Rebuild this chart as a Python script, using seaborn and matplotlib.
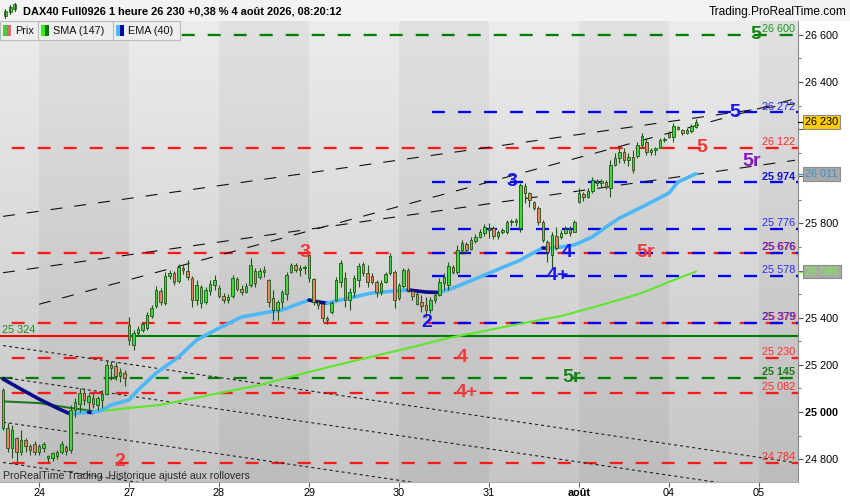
import numpy as np
import pandas as pd
import matplotlib
matplotlib.use("Agg")
import matplotlib.pyplot as plt
import matplotlib.transforms as mtrans
from matplotlib.patches import Rectangle
import seaborn as sns

# ---------------- data (hourly candles, DAX40) ----------------
opens = [25093, 24932, 24847, 24890, 24830, 24881, 24855, 24864, 24830, 24847,
         24805, 24805, 24813, 24830, 24851, 24838, 25008, 25034, 25080, 25042,
         25059, 25030, 25051, 25076, 25199, 25195, 25153, 25165, 25369, 25284,
         25335, 25348, 25356, 25407, 25450, 25513, 25462, 25577, 25590, 25556,
         25611, 25598, 25569, 25475, 25530, 25467, 25513, 25539, 25526, 25492,
         25475, 25492, 25565, 25522, 25509, 25539, 25600, 25573, 25594, 25560,
         25484, 25433, 25467, 25500, 25594, 25624, 25602, 25611, 25666, 25565,
         25467, 25458, 25399, 25424, 25475, 25552, 25569, 25475, 25509, 25560,
         25628, 25590, 25577, 25552, 25509, 25552, 25590, 25594, 25484, 25535,
         25602, 25513, 25500, 25467, 25454, 25433, 25475, 25496, 25547, 25539,
         25615, 25594, 25687, 25713, 25692, 25726, 25743, 25760, 25781, 25781,
         25747, 25764, 25764, 25806, 25806, 25781, 25959, 25929, 25891, 25866,
         25806, 25721, 25666, 25747, 25743, 25760, 25777, 25764, 25891, 25925,
         25912, 25938, 25980, 25972, 25976, 25951, 26048, 26078, 26103, 26069,
         26082, 26086, 26133, 26146, 26103, 26112, 26120, 26154, 26184, 26167,
         26210, 26197, 26184, 26193, 26210]
highs = [25100, 24953, 24945, 24895, 24923, 24889, 24864, 24877, 24864, 24872,
         24817, 24830, 24838, 24877, 24860, 25030, 25059, 25102, 25102, 25080,
         25080, 25068, 25093, 25220, 25216, 25212, 25187, 25178, 25403, 25348,
         25365, 25382, 25424, 25454, 25535, 25526, 25594, 25602, 25598, 25628,
         25624, 25645, 25577, 25560, 25539, 25530, 25560, 25581, 25539, 25505,
         25500, 25581, 25573, 25539, 25547, 25653, 25610, 25611, 25619, 25565,
         25518, 25475, 25518, 25594, 25632, 25632, 25624, 25624, 25679, 25569,
         25480, 25462, 25407, 25471, 25573, 25645, 25594, 25526, 25581, 25632,
         25637, 25624, 25590, 25560, 25560, 25594, 25675, 25602, 25547, 25611,
         25611, 25518, 25509, 25496, 25488, 25488, 25509, 25569, 25590, 25637,
         25624, 25709, 25730, 25721, 25743, 25755, 25777, 25798, 25802, 25789,
         25772, 25781, 25815, 25819, 25823, 25972, 25972, 25935, 25896, 25874,
         25815, 25730, 25764, 25785, 25772, 25789, 25789, 25815, 25951, 25933,
         25951, 25997, 25989, 25989, 25985, 26069, 26099, 26120, 26120, 26099,
         26112, 26146, 26184, 26163, 26120, 26125, 26163, 26167, 26193, 26226,
         26214, 26201, 26205, 26222, 26243]
lows = [24923, 24830, 24805, 24788, 24817, 24830, 24817, 24817, 24817, 24830,
        24788, 24792, 24800, 24821, 24817, 24826, 24979, 25000, 25030, 25008,
        25017, 25008, 25017, 25072, 25136, 25136, 25127, 25110, 25284, 25263,
        25327, 25339, 25348, 25399, 25441, 25454, 25454, 25565, 25539, 25547,
        25585, 25560, 25446, 25454, 25441, 25458, 25496, 25518, 25484, 25462,
        25462, 25484, 25513, 25496, 25505, 25530, 25530, 25565, 25573, 25446,
        25390, 25390, 25441, 25475, 25590, 25594, 25577, 25585, 25552, 25454,
        25437, 25382, 25373, 25416, 25470, 25530, 25446, 25433, 25488, 25530,
        25577, 25530, 25543, 25488, 25496, 25547, 25581, 25441, 25475, 25526,
        25509, 25475, 25454, 25424, 25403, 25420, 25462, 25492, 25518, 25518,
        25586, 25586, 25670, 25675, 25687, 25717, 25738, 25747, 25738, 25734,
        25734, 25755, 25755, 25790, 25790, 25764, 25887, 25870, 25857, 25794,
        25721, 25637, 25615, 25687, 25734, 25755, 25747, 25764, 25887, 25895,
        25908, 25929, 25959, 25955, 25946, 25912, 26044, 26057, 26057, 26044,
        26014, 26078, 26120, 26091, 26091, 26091, 26120, 26146, 26163, 26146,
        26197, 26176, 26180, 26184, 26205]
closes = [24932, 24847, 24923, 24830, 24881, 24855, 24838, 24830, 24855, 24864,
          24813, 24826, 24830, 24864, 24834, 25008, 25042, 25080, 25051, 25068,
          25034, 25059, 25076, 25199, 25187, 25153, 25170, 25144, 25305, 25335,
          25352, 25373, 25412, 25441, 25518, 25467, 25577, 25590, 25552, 25615,
          25602, 25573, 25475, 25539, 25462, 25518, 25543, 25560, 25492, 25475,
          25488, 25569, 25522, 25509, 25535, 25624, 25547, 25598, 25602, 25467,
          25433, 25467, 25509, 25581, 25624, 25602, 25611, 25615, 25569, 25467,
          25454, 25399, 25390, 25462, 25560, 25632, 25475, 25509, 25569, 25619,
          25590, 25552, 25552, 25509, 25547, 25585, 25662, 25475, 25539, 25602,
          25518, 25492, 25458, 25450, 25433, 25475, 25496, 25552, 25573, 25619,
          25594, 25687, 25717, 25687, 25730, 25743, 25764, 25785, 25772, 25747,
          25764, 25772, 25806, 25808, 25815, 25963, 25929, 25900, 25866, 25806,
          25730, 25679, 25751, 25696, 25760, 25777, 25760, 25806, 25929, 25912,
          25938, 25985, 25972, 25980, 25955, 26048, 26078, 26103, 26069, 26082,
          26027, 26133, 26171, 26103, 26112, 26120, 26154, 26159, 26167, 26214,
          26201, 26184, 26197, 26214, 26230]

sma_idx = [0, 8, 14, 20, 22, 24, 28, 35, 48, 57, 67, 77, 90, 99, 108, 117, 124, 133, 142, 148, 154]
sma_val = [25045, 25038, 25020, 25004, 25006, 25008, 25017, 25030, 25080, 25114, 25165,
           25212, 25271, 25314, 25348, 25382, 25407, 25454, 25505, 25552, 25596]
ema_idx = [0, 4, 8, 12, 15, 17, 19, 20, 22, 24, 28, 30, 34, 39, 43, 48, 53, 59, 62, 68, 70, 72,
           75, 77, 82, 87, 90, 94, 97, 100, 107, 115, 119, 120, 121, 124, 127, 131, 134, 137,
           142, 148, 150, 154]
ema_val = [25140, 25097, 25055, 25017, 24991, 24996, 24999, 24998, 25008, 25030, 25051, 25093,
           25165, 25233, 25305, 25356, 25403, 25424, 25433, 25475, 25467, 25462, 25475, 25484,
           25505, 25513, 25518, 25509, 25507, 25526, 25581, 25645, 25687, 25696, 25694, 25700,
           25709, 25743, 25785, 25823, 25870, 25929, 25976, 26011]

day_pos = [8, 28, 48, 68, 88, 108, 128, 148, 168]
day_labels = ["24", "27", "28", "29", "30", "31", "août", "04", "05"]

red_levels = [26122, 25676, 25379, 25230, 25082, 24784]
blue_levels = [26272, 25974, 25776, 25676, 25578, 25379]
green_levels = [26600, 25145]
support_level = 25324
blue_start = 95.3
support_switch = 28.2

dashed_trends = [(0, 25830, 176, 26308), (0, 25591, 176, 26068), (8, 25457, 176, 26329)]
dotted_trends = [(0, 25282, 176, 24785), (0, 24957, 92.7, 24697),
                 (0, 25147, 176, 24653), (0, 24786, 32.7, 24694)]

wave_text = ["5", "5", "5", "5r", "3", "3", "4", "4+", "5r", "2", "4", "5r", "4+", "2"]
wave_idx = [167.3, 162.7, 155.3, 166.4, 113.1, 67.1, 125.3, 123.3, 142.7, 94.2, 102.0, 126.4, 103.1, 26.0]
wave_price = [26600, 26272, 26122, 26061, 25980, 25676, 25676, 25578, 25676, 25379, 25230, 25145, 25082, 24790]
wave_kind = ["green", "blue", "red", "purple", "blue", "red", "blue", "blue", "red", "blue", "red", "green", "red", "red"]

last_price = 26230
ema_last = 26011
sma_last = 25596
title = "DAX40 Full0926 1 heure 26 230 +0,38 % 4 août 2026, 08:20:12"

# ---------------- style ----------------
sns.set_theme(style="white")
plt.rcParams['font.family'] = ['Liberation Sans', 'DejaVu Sans']
plt.rcParams['lines.scale_dashes'] = False

W, H = 850, 500
PT = 0.72  # points per pixel at 100 dpi
def fx(px): return px / W
def fy(py): return 1 - py / H
def fmt(v): return f"{int(v):,}".replace(",", " ")

RED = "#ff1a1a"
LBL = {"red": "#f03a3a", "blue": "#1414f0", "green": "#0f870f", "purple": "#8614c8"}

fig = plt.figure(figsize=(8.5, 5), dpi=100, facecolor="white")
ax = fig.add_axes([0, fy(482), fx(798), (482 - 21) / H])
x0, x1 = -0.667, 176.667
y0, y1 = 24703, 26659

# background gradient + alternating day bands
grad = np.linspace(0.925, 0.775, 256)[:, None, None] * np.ones((1, 1, 3))
ax.imshow(grad, extent=[x0, x1, y0, y1], aspect="auto", zorder=0, interpolation="bilinear")
bounds = day_pos + [x1]
for k in range(0, len(bounds) - 1, 2):
    ax.axvspan(bounds[k], bounds[k + 1], color="black", alpha=0.045, lw=0, zorder=0.5)

# horizontal levels
on = 13 * PT
for v in red_levels:
    ax.plot([x0, x1], [v, v], color=RED, lw=1.65, ls=(14.3 * PT, (on, on)), zorder=2)
for v in blue_levels:
    ax.plot([blue_start, x1], [v, v], color="#0000ff", lw=1.65, ls=(0, (on, on)), zorder=2.1)
for v in green_levels:
    ax.plot([x0, x1], [v, v], color="#008000", lw=1.65, ls=(0.3 * PT, (on, on)), zorder=2)
ax.plot([x0, support_switch], [support_level] * 2, color="#ff0000", lw=1.5, zorder=2)
ax.plot([support_switch, x1], [support_level] * 2, color="#007a00", lw=1.5, zorder=2)

# trend lines
for a, pa, b, pb in dashed_trends:
    ax.plot([a, b], [pa, pb], color="#111111", lw=0.8, ls=(0, (12 * PT, 12 * PT)), zorder=3)
for a, pa, b, pb in dotted_trends:
    ax.plot([a, b], [pa, pb], color="#222222", lw=0.8, ls=(0, (2.2, 2.2)), zorder=3)

# moving averages, coloured by direction
def draw_ma(idx, val, up_col, dn_col, lw):
    idx = np.asarray(idx, float); val = np.asarray(val, float)
    ups = np.diff(val) >= 0
    start = 0
    for k in range(1, len(ups) + 1):
        if k == len(ups) or ups[k] != ups[start]:
            seg = pd.DataFrame({"i": idx[start:k + 1], "v": val[start:k + 1]})
            sns.lineplot(data=seg, x="i", y="v", ax=ax, color=up_col if ups[start] else dn_col,
                         lw=lw, legend=False, sort=False, estimator=None,
                         solid_capstyle="round", zorder=4)
            start = k

draw_ma(sma_idx, sma_val, "#5ee62a", "#1c7a1c", 1.5)
draw_ma(ema_idx, ema_val, "#4cb8f5", "#0a0a8a", 2.6)

# candles
o = np.array(opens); h = np.array(highs); l = np.array(lows); c = np.array(closes)
ci = np.arange(len(o))
up = c >= o
EDGE = "#1d5512"
ax.vlines(ci, l, h, color=EDGE, lw=0.8, zorder=5)
ax.bar(ci, np.maximum(np.abs(c - o), 3), bottom=np.minimum(o, c), width=0.62,
       color=np.where(up, "#3fd83f", "#ef8068"), edgecolor=EDGE, linewidth=0.6, zorder=6)

# wave labels
for t, xi, pv, kd in zip(wave_text, wave_idx, wave_price, wave_kind):
    ax.text(xi, pv, t, color=LBL[kd], fontsize=14, fontweight="bold", ha="center",
            va="center", zorder=8)

# level tags at right edge
tags = [(26600, "#1a9a1a", "normal"), (26272, "#2a2aff", "normal"), (26122, "#ff2a2a", "normal"),
        (25974, "#1010c8", "bold"), (25776, "#2a2aff", "normal"), (25578, "#2a2aff", "normal"),
        (25230, "#ff2a2a", "normal"), (25145, "#167a16", "bold"), (25082, "#ff2a2a", "normal"),
        (24784, "#ff2a2a", "normal")]
for v, col, wt in tags:
    ax.annotate(fmt(v), xy=(x1, v), xytext=(-2, 0.5), textcoords="offset points", ha="right",
                va="bottom", fontsize=7.8, color=col, fontweight=wt, zorder=9)
for v in [25676, 25379]:
    ax.annotate(fmt(v), xy=(x1, v), xytext=(-1.2, 0.5), textcoords="offset points", ha="right",
                va="bottom", fontsize=7.8, color="#ff2a2a", zorder=9)
    ax.annotate(fmt(v), xy=(x1, v), xytext=(-2, 0.5), textcoords="offset points", ha="right",
                va="bottom", fontsize=7.8, color="#3a1ae0", zorder=9.1)
ax.annotate(fmt(support_level), xy=(x0, support_level), xytext=(1.5, 0.5),
            textcoords="offset points", ha="left", va="bottom", fontsize=7.8, color="#1a8a1a", zorder=9)

ax.text(0.004, 0.003, "ProRealTime Trading  Historique ajusté aux rollovers", transform=ax.transAxes,
        fontsize=7.6, color="#2a2a2a", ha="left", va="bottom", zorder=9)

# axes / ticks
ax.set_xlim(x0, x1); ax.set_ylim(y0, y1)
ax.yaxis.tick_right()
yt = list(range(24800, 26601, 200))
hidden = {last_price // 200 * 200, (ema_last + 100) // 200 * 200, (sma_last + 100) // 200 * 200}
ax.set_yticks(yt)
ax.set_yticklabels(["" if v in hidden else fmt(v) for v in yt])
ax.set_yticks(list(range(24800, 26660, 100)), minor=True)
ax.tick_params(axis="y", which="major", right=True, left=False, length=3.6, width=0.8,
               color="#555555", labelsize=7.8, pad=1.4, labelcolor="black")
ax.tick_params(axis="y", which="minor", right=True, left=False, length=1.8, width=0.8, color="#777777")
for tl in ax.get_yticklabels():
    if tl.get_text() == "25 000":
        tl.set_fontweight("bold")
ax.set_xticks(day_pos)
ax.set_xticklabels(day_labels)
ax.tick_params(axis="x", which="major", bottom=True, length=3.5, width=0.8, color="#666666",
               labelsize=7.8, pad=0.8, labelcolor="black")
for tl in ax.get_xticklabels():
    if tl.get_text() == "août":
        tl.set_fontweight("bold")
ax.set_xlabel(""); ax.set_ylabel("")
for s in ["top", "left"]:
    ax.spines[s].set_visible(False)
ax.spines["right"].set_color("#8a8a8a"); ax.spines["right"].set_linewidth(0.8)
ax.spines["bottom"].set_color("#b0b0b0"); ax.spines["bottom"].set_linewidth(0.8)

# value boxes on the price scale
blend = mtrans.blended_transform_factory(ax.transAxes, ax.transData)
for v, fc, tc in [(last_price, "#ffcc00", "black"), (ema_last, "#a9a9a9", "#2f93d8"),
                  (sma_last, "#a9a9a9", "#6cff2a")]:
    ax.plot([1, 1 + 5 / 798], [v, v], transform=blend, clip_on=False,
            color="black" if v == last_price else tc, lw=0.9, zorder=10)
    ax.annotate(fmt(v), xy=(1, v), xycoords=blend, xytext=(5.3, 0), textcoords="offset points",
                ha="left", va="center", fontsize=7.8, color=tc, annotation_clip=False, zorder=11,
                bbox=dict(boxstyle="square,pad=0.18", fc=fc, ec="#8c8c8c", lw=0.8))

# title bar
fig.add_artist(Rectangle((0, fy(21)), 1, 21 / H, transform=fig.transFigure, fc="#f3f3f3", ec="none", zorder=0))
fig.text(fx(23), fy(11.5), title, fontsize=7.9, fontweight="bold", color="black", ha="left", va="center")
fig.text(fx(847), fy(11.5), "Trading.ProRealTime.com", fontsize=8.6, color="black", ha="right", va="center")
for cx, yt_, yb, bt, bb in [(5, 9, 18, 11, 16), (10, 5, 14, 7, 12), (15, 3, 11, 4, 9)]:
    fig.add_artist(plt.Line2D([fx(cx), fx(cx)], [fy(yt_), fy(yb)], transform=fig.transFigure,
                              color="#1d5512", lw=0.8))
    fig.add_artist(Rectangle((fx(cx - 1.5), fy(bb)), 3 / W, (bb - bt) / H, transform=fig.transFigure,
                             fc="#3fd83f", ec="#1d5512", lw=0.5))

# legend boxes
legend_items = [("Prix", 0, 38, "#3fcf3f", "#e06868"), ("SMA (147)", 38, 113, "#3aee00", "#007a00"),
                ("EMA (40)", 113, 180, "#44bbff", "#00009a")]
for txt, xa, xb, ca, cb in legend_items:
    fig.add_artist(Rectangle((fx(xa), fy(40)), (xb - xa) / W, 18.5 / H, transform=fig.transFigure,
                             fc="#eeeeee", ec="#bcbcbc", lw=0.8, zorder=20))
    fig.add_artist(Rectangle((fx(xa + 2.5), fy(36)), 4.3 / W, 10.5 / H, transform=fig.transFigure,
                             fc=ca, ec="none", zorder=21))
    fig.add_artist(Rectangle((fx(xa + 6.8), fy(36)), 4.3 / W, 10.5 / H, transform=fig.transFigure,
                             fc=cb, ec="none", zorder=21))
    t = fig.text(fx(xa + 15), fy(31), txt, fontsize=7.8, color="#111111", ha="left", va="center")
    t.set_zorder(22)

fig.savefig("out.png", dpi=100, facecolor="white")
